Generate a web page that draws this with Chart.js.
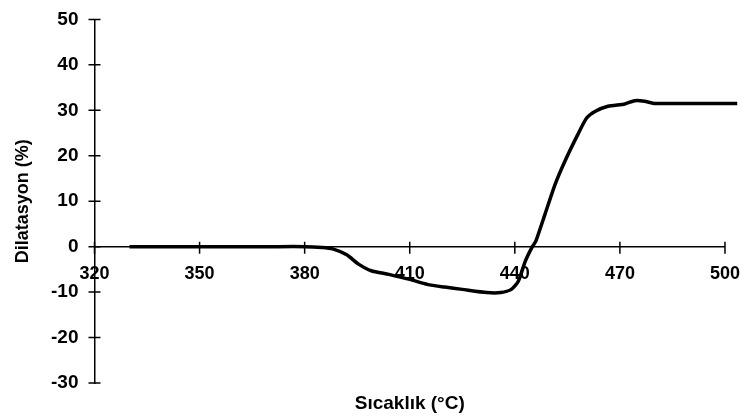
<!DOCTYPE html>
<html>
<head>
<meta charset="utf-8">
<script src="https://cdn.jsdelivr.net/npm/chart.js@4"></script>
<style>
  body { margin: 0; background: #fff; }
  #caixa { width: 749px; height: 418px; }
</style>
</head>
<body>
<div id="caixa"><canvas id="graficoDilatacao"></canvas></div>
<script>
const temperaturas = [
  330, 350, 370, 380, 385, 388, 392, 395.5, 399, 404, 410, 415, 420, 425, 432,
  436, 439, 441, 443, 445, 446, 448.6, 451.5, 454.3, 458, 460.5, 463, 466.6,
  471.4, 474.2, 477, 480, 490, 503.5,
];
const dilatacao = [
  0, 0, 0, 0, -0.2, -0.5, -1.8, -3.9, -5.3, -6.1, -7.2, -8.3, -8.9, -9.4, -10.1,
  -10.1, -9.4, -7.6, -3.2, 0, 1.2, 7.1, 13.7, 18.8, 24.7, 28.3, 29.8, 30.9,
  31.4, 32.1, 32, 31.5, 31.5, 31.5,
];
const limitesX = [320, 500];
const limitesY = [-30, 50];
const tituloX = "Sıcaklık (°C)";
const tituloY = "Dilatasyon (%)";

const fonte = '"Liberation Sans", Arial, sans-serif';

// marcas que cruzam os eixos + titulo do eixo x centrado embaixo
const marcasCruzadas = {
  id: "marcasCruzadas",
  afterDraw(grafico) {
    const { ctx, scales, chartArea } = grafico;
    const eixoX = scales.x;
    const eixoY = scales.y;
    const y0 = eixoY.getPixelForValue(0);
    const x0 = eixoX.getPixelForValue(limitesX[0]);

    ctx.save();
    ctx.strokeStyle = "#000";
    ctx.lineWidth = 1.5;
    ctx.beginPath();
    eixoX.ticks.forEach((t) => {
      const px = eixoX.getPixelForValue(t.value);
      ctx.moveTo(px, y0 - 5);
      ctx.lineTo(px, y0 + 7);
    });
    eixoY.ticks.forEach((t) => {
      const py = eixoY.getPixelForValue(t.value);
      ctx.moveTo(x0 - 6, py);
      ctx.lineTo(x0 + 6, py);
    });
    ctx.stroke();

    ctx.fillStyle = "#000";
    ctx.font = "bold 19px " + fonte;
    ctx.textAlign = "center";
    ctx.textBaseline = "middle";
    ctx.fillText(tituloX, (chartArea.left + chartArea.right) / 2, 404);
    ctx.restore();
  },
};

const grafico = new Chart(document.getElementById("graficoDilatacao"), {
  type: "line",
  data: {
    datasets: [
      {
        data: temperaturas.map((t, i) => ({ x: t, y: dilatacao[i] })),
        borderColor: "#000",
        borderWidth: 3.5,
        pointRadius: 0,
        tension: 0.2,
        clip: false,
      },
    ],
  },
  options: {
    responsive: true,
    maintainAspectRatio: false,
    animation: false,
    layout: { padding: { left: 0, right: 22, top: 18, bottom: 35 } },
    plugins: {
      legend: { display: false },
      tooltip: { enabled: false },
    },
    scales: {
      x: {
        type: "linear",
        min: limitesX[0],
        max: limitesX[1],
        position: { y: 0 },
        grid: { display: false, drawTicks: true, tickLength: 8 },
        border: { display: true, color: "#000", width: 1.5 },
        ticks: {
          stepSize: 30,
          color: "#000",
          padding: 9,
          maxRotation: 0,
          font: { family: fonte, size: 18, weight: "bold" },
        },
      },
      y: {
        min: limitesY[0],
        max: limitesY[1],
        afterFit: (escala) => {
          escala.width = 94.5;
        },
        grid: { display: false, drawTicks: true, tickLength: 8 },
        border: { display: true, color: "#000", width: 1.5 },
        ticks: {
          stepSize: 10,
          color: "#000",
          padding: 8,
          font: { family: fonte, size: 19, weight: "bold" },
        },
        title: {
          display: true,
          text: tituloY,
          color: "#000",
          padding: { top: 12, bottom: 0 },
          font: { family: fonte, size: 18, weight: "bold" },
        },
      },
    },
  },
  plugins: [marcasCruzadas],
});
</script>
</body>
</html>
